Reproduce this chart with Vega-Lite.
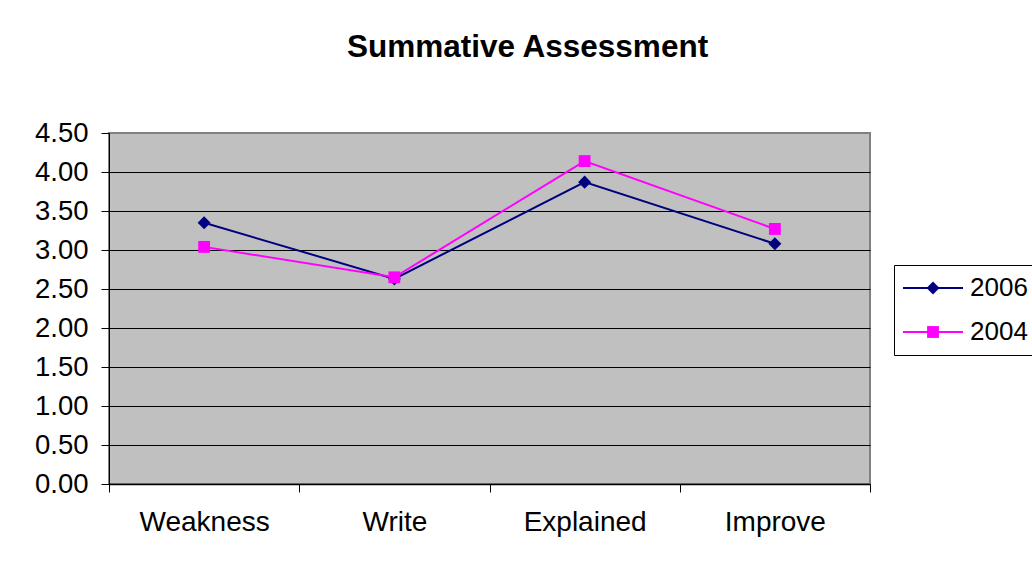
{
  "$schema": "https://vega.github.io/schema/vega-lite/v6.json",
  "width": 761,
  "height": 351,
  "autosize": {"type": "none"},
  "padding": {"left": 109, "top": 133, "right": 162, "bottom": 85},
  "background": "white",
  "title": {
    "text": "Summative Assessment",
    "font": "Liberation Sans",
    "fontSize": 31.5,
    "fontWeight": "bold",
    "color": "#000000",
    "anchor": "middle",
    "frame": "group",
    "dx": 38,
    "baseline": "alphabetic",
    "offset": 31
  },
  "data": {
    "values": [
      {"item": "Weakness", "year": "2006", "score": 3.35},
      {"item": "Write", "year": "2006", "score": 2.63},
      {"item": "Explained", "year": "2006", "score": 3.87},
      {"item": "Improve", "year": "2006", "score": 3.08},
      {"item": "Weakness", "year": "2004", "score": 3.04},
      {"item": "Write", "year": "2004", "score": 2.65},
      {"item": "Explained", "year": "2004", "score": 4.14},
      {"item": "Improve", "year": "2004", "score": 3.27}
    ]
  },
  "encoding": {
    "x": {
      "field": "item",
      "type": "nominal",
      "sort": ["Weakness", "Write", "Explained", "Improve"],
      "scale": {"type": "band", "paddingInner": 0, "paddingOuter": 0},
      "axis": {
        "title": null,
        "labelAngle": 0,
        "labelFont": "Liberation Sans",
        "labelFontSize": 28,
        "labelColor": "#000000",
        "labelPadding": 16,
        "tickBand": "extent",
        "tickSize": 8,
        "tickColor": "#000000",
        "domainColor": "#000000",
        "domainWidth": 1.5,
        "grid": false
      }
    },
    "y": {
      "field": "score",
      "type": "quantitative",
      "scale": {"domain": [0, 4.5], "nice": false, "zero": true},
      "axis": {
        "title": null,
        "values": [0, 0.5, 1, 1.5, 2, 2.5, 3, 3.5, 4, 4.5],
        "format": ".2f",
        "labelFont": "Liberation Sans",
        "labelFontSize": 27.5,
        "labelColor": "#000000",
        "labelPadding": 13,
        "tickSize": 8,
        "tickColor": "#000000",
        "domainColor": "#000000",
        "grid": true,
        "gridColor": {"condition": {"test": "datum.value === 4.5", "value": "#808080"}, "value": "#000000"},
        "gridWidth": 1
      }
    },
    "color": {
      "field": "year",
      "type": "nominal",
      "scale": {"domain": ["2006", "2004"], "range": ["#000080", "#FF00FF"]}
    }
  },
  "resolve": {"legend": {"color": "independent"}},
  "layer": [
    {
      "mark": {"type": "line", "strokeWidth": 2},
      "encoding": {
        "color": {
          "field": "year",
          "type": "nominal",
          "scale": {"domain": ["2006", "2004"], "range": ["#000080", "#FF00FF"]},
          "legend": {
            "title": null,
            "orient": "none",
            "legendX": 785,
            "legendY": 132,
            "padding": 10,
            "strokeColor": "#000000",
            "fillColor": "#FFFFFF",
            "labelFont": "Liberation Sans",
            "labelFontSize": 26,
            "labelColor": "#000000",
            "labelOffset": 44,
            "rowPadding": 18,
            "symbolType": "M-1,0L5,0",
            "symbolSize": 400,
            "symbolOffset": -4,
            "symbolStrokeWidth": 2
          }
        }
      }
    },
    {
      "transform": [{"filter": "datum.year === '2006'"}],
      "mark": {"type": "point", "filled": true, "opacity": 1, "shape": "diamond", "size": 170},
      "encoding": {
        "color": {
          "field": "year",
          "type": "nominal",
          "scale": {"domain": ["2006", "2004"], "range": ["#000080", "#FF00FF"]},
          "legend": {
            "title": null,
            "values": ["2006"],
            "orient": "none",
            "legendX": 785,
            "legendY": 132,
            "padding": 10,
            "strokeColor": "transparent",
            "fillColor": "transparent",
            "labelFont": "Liberation Sans",
            "labelFontSize": 26,
            "labelOpacity": 0,
            "labelOffset": 40,
            "symbolType": "diamond",
            "symbolSize": 170,
            "symbolOffset": 16,
            "symbolOpacity": 1
          }
        }
      }
    },
    {
      "transform": [{"filter": "datum.year === '2004'"}],
      "mark": {"type": "point", "filled": true, "opacity": 1, "shape": "square", "size": 140},
      "encoding": {
        "color": {
          "field": "year",
          "type": "nominal",
          "scale": {"domain": ["2006", "2004"], "range": ["#000080", "#FF00FF"]},
          "legend": {
            "title": null,
            "values": ["2004"],
            "orient": "none",
            "legendX": 785,
            "legendY": 176,
            "padding": 10,
            "strokeColor": "transparent",
            "fillColor": "transparent",
            "labelFont": "Liberation Sans",
            "labelFontSize": 26,
            "labelOpacity": 0,
            "labelOffset": 40,
            "symbolType": "square",
            "symbolSize": 140,
            "symbolOffset": 16,
            "symbolOpacity": 1
          }
        }
      }
    }
  ],
  "config": {
    "view": {"fill": "#C0C0C0", "stroke": "#808080", "strokeWidth": 2}
  }
}
